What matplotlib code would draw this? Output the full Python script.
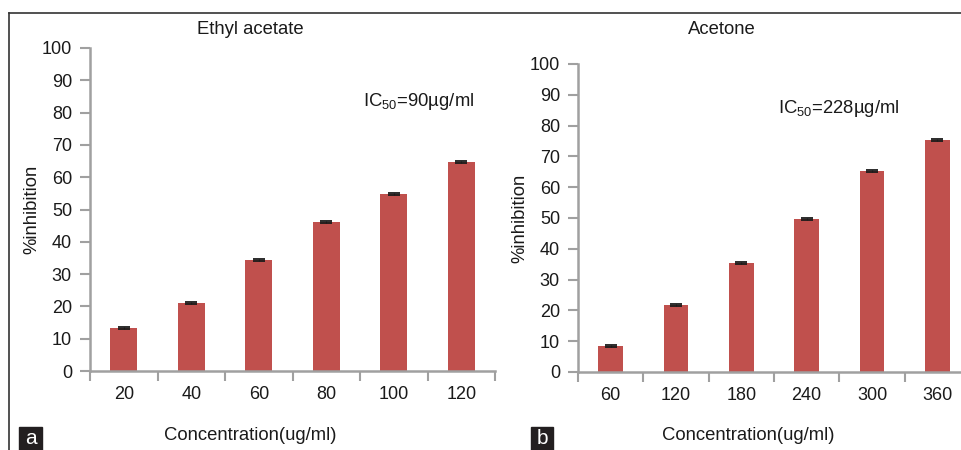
import matplotlib
matplotlib.use("Agg")
import matplotlib.pyplot as plt
from matplotlib.lines import Line2D
from matplotlib.patches import Rectangle

plt.rcParams['font.family'] = ['Liberation Sans', 'DejaVu Sans']
plt.rcParams['mathtext.fontset'] = 'custom'
plt.rcParams['mathtext.rm'] = 'Liberation Sans'
plt.rcParams['mathtext.it'] = 'Liberation Sans:italic'
plt.rcParams['mathtext.bf'] = 'Liberation Sans:bold'

# Data
ea_conc = ["20", "40", "60", "80", "100", "120"]
ea_inhib = [13.2, 21.0, 34.4, 46.2, 54.8, 64.7]
ea_err = [0.3, 0.3, 0.3, 0.3, 0.3, 0.3]

ac_conc = ["60", "120", "180", "240", "300", "360"]
ac_inhib = [8.5, 21.8, 35.4, 49.6, 65.2, 75.3]
ac_err = [0.3, 0.3, 0.3, 0.3, 0.3, 0.3]

yticks = [0, 10, 20, 30, 40, 50, 60, 70, 80, 90, 100]

W, H = 962, 450
fig = plt.figure(figsize=(W / 100, H / 100), dpi=100)

bar_color = "#C0504D"
axis_color = "#A0A0A0"
text_color = "#1a1a1a"
FS = 13.3


def px_axes(x0, x1, y0, y1):
    return fig.add_axes([x0 / W, 1 - y1 / H, (x1 - x0) / W, (y1 - y0) / H])


def draw_panel(ax, cats, vals, errs, ic_text, ic_xy, width):
    x = list(range(len(cats)))
    ax.bar(x, vals, width=width, color=bar_color, zorder=2)
    ax.errorbar(x, vals, yerr=errs, fmt="none", ecolor="#1a1a1a",
                elinewidth=0.8, capsize=4.2, capthick=1.3, zorder=3)
    ax.set_xlim(-0.5, len(cats) - 0.5)
    ax.set_ylim(0, 100)
    ax.set_yticks(yticks)
    ax.set_yticklabels([str(t) for t in yticks])
    for s in ["top", "right"]:
        ax.spines[s].set_visible(False)
    for s in ["left", "bottom"]:
        ax.spines[s].set_color(axis_color)
        ax.spines[s].set_linewidth(1.8)
    ax.tick_params(axis="y", direction="out", length=7, width=1.5,
                   color=axis_color, labelsize=13, labelcolor=text_color, pad=6)
    # category ticks: marks between categories, labels at centers
    ax.set_xticks([i - 0.5 for i in range(len(cats) + 1)])
    ax.set_xticklabels([])
    ax.set_xticks(x, minor=True)
    ax.set_xticklabels(cats, minor=True)
    ax.tick_params(axis="x", which="major", direction="out", length=7,
                   width=1.5, color=axis_color)
    ax.tick_params(axis="x", which="minor", length=0, labelsize=13,
                   labelcolor=text_color, pad=11)
    ax.set_ylabel("%inhibition", fontsize=FS, color=text_color, labelpad=1)
    ax.text(ic_xy[0], ic_xy[1], ic_text, transform=ax.transAxes,
            fontsize=FS, color=text_color, ha="left", va="center")
    ax.patch.set_alpha(0)


# Left panel
ax1 = px_axes(90, 495, 48, 371)
draw_panel(ax1, ea_conc, ea_inhib, ea_err,
           r"IC$_{\mathrm{50}}$=90µg/ml", (0.675, 0.835), 0.4)
# Right panel
ax2 = px_axes(578, 970, 64, 372)
draw_panel(ax2, ac_conc, ac_inhib, ac_err,
           r"IC$_{\mathrm{50}}$=228µg/ml", (0.51, 0.855), 0.38)

# Titles and x-labels
fig.text(250 / W, 1 - 29 / H, "Ethyl acetate", fontsize=FS, color=text_color,
         ha="center", va="center")
fig.text(722 / W, 1 - 30 / H, "Acetone", fontsize=FS, color=text_color,
         ha="center", va="center")
fig.text(250 / W, 1 - 436 / H, "Concentration(ug/ml)", fontsize=FS,
         color=text_color, ha="center", va="center")
fig.text(748 / W, 1 - 435 / H, "Concentration(ug/ml)", fontsize=FS,
         color=text_color, ha="center", va="center")

# Frame lines
fig.add_artist(Line2D([9 / W, 1.0], [1 - 13 / H, 1 - 13 / H],
                      color="#333333", lw=1.2))
fig.add_artist(Line2D([9 / W, 9 / W], [0, 1 - 13 / H],
                      color="#333333", lw=1.2))

# Panel letters
for (x0, x1, letter) in [(19, 42, "a"), (531, 553, "b")]:
    fig.add_artist(Rectangle((x0 / W, 0), (x1 - x0) / W, 23 / H,
                             transform=fig.transFigure, color="#231F20"))
    fig.text((x0 + x1) / 2 / W, 11 / H, letter, color="white", fontsize=15,
             ha="center", va="center")

fig.savefig("out.png", dpi=100)
